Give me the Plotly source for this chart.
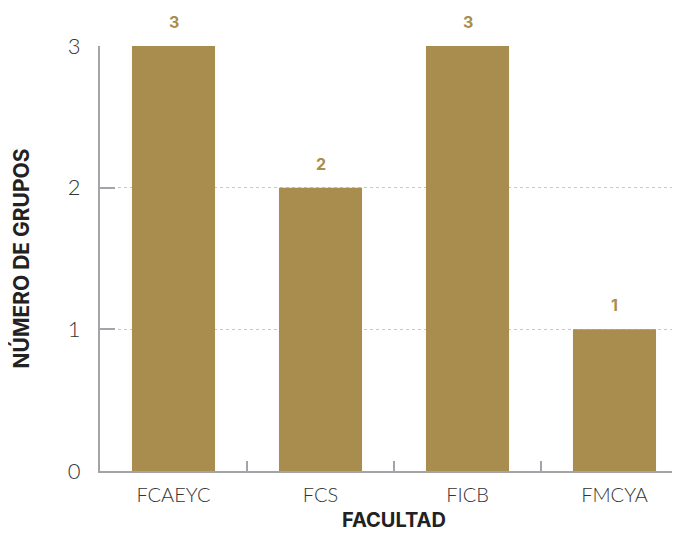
import plotly.graph_objects as go

categories = ["FCAEYC", "FCS", "FICB", "FMCYA"]
values = [3, 2, 3, 1]
y_ticks = [0, 1, 2, 3]

gold = "#A88D4F"
axis_grey = "#A3A3A8"

fig = go.Figure()
fig.add_trace(go.Bar(x=categories, y=values, marker=dict(color=gold, line=dict(width=0)),
                     hoverinfo="skip"))

for c, v in zip(categories, values):
    fig.add_annotation(x=c, y=v, text=f"<b>{v}</b>", showarrow=False, yanchor="bottom",
                       yshift=12, font=dict(family="Inter", size=16, color=gold))

fig.update_layout(
    width=680, height=535,
    margin=dict(l=92, r=0, t=38, b=72, autoexpand=False),
    plot_bgcolor="white", paper_bgcolor="white",
    bargap=0.435,
    showlegend=False,
    font=dict(family="Lato", color="#444"),
)
fig.update_xaxes(
    range=[-0.5, 3.5], automargin=False,
    showline=True, linecolor=axis_grey, linewidth=2,
    ticks="inside", tickson="boundaries", ticklen=10, tickwidth=2, tickcolor=axis_grey,
    tickfont=dict(family="Lato", size=20, color="#333", weight=300),
    ticklabelstandoff=5,
    title=dict(text="<b>FACULTAD</b>", font=dict(family="Inter", size=20, color="#222"), standoff=8),
    showgrid=False,
)
fig.update_yaxes(
    range=[0, 3], tickvals=y_ticks, automargin=False,
    showline=True, linecolor=axis_grey, linewidth=2,
    ticks="inside", ticklen=15, tickwidth=2, tickcolor=axis_grey,
    tickfont=dict(family="Lato", size=22, color="#333", weight=300),
    ticklabelstandoff=13,
    showgrid=True, gridcolor="#C8C8C8", gridwidth=1, griddash="dot",
    zeroline=False,
    title=dict(text="<b>NÚMERO DE GRUPOS</b>", font=dict(family="Inter", size=21, color="#222"), standoff=38),
)

fig.write_html("out.html")
